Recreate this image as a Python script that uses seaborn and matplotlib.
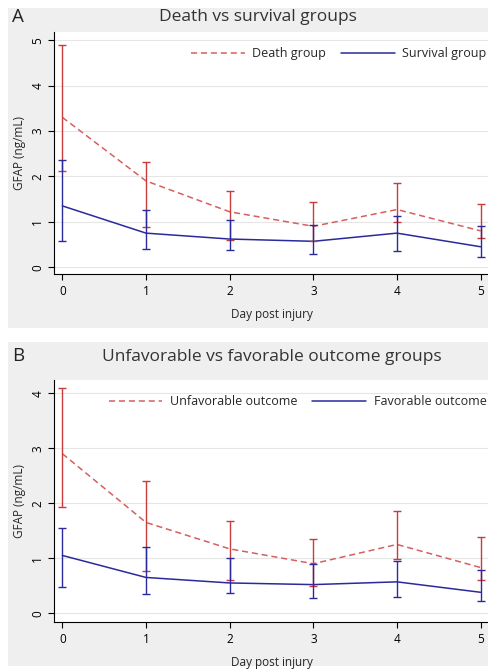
import matplotlib
matplotlib.use("Agg")
import matplotlib.pyplot as plt
import seaborn as sns
import pandas as pd
import numpy as np

days = [0, 1, 2, 3, 4, 5]

# Panel A
death_mean = [3.3, 1.9, 1.22, 0.9, 1.27, 0.8]
death_low = [2.12, 0.88, 0.6, 0.57, 1.0, 0.65]
death_high = [4.9, 2.32, 1.68, 1.43, 1.85, 1.4]
surv_mean = [1.35, 0.75, 0.62, 0.57, 0.75, 0.45]
surv_low = [0.57, 0.4, 0.37, 0.3, 0.35, 0.22]
surv_high = [2.37, 1.25, 1.03, 0.93, 1.13, 0.9]

# Panel B
unfav_mean = [2.9, 1.65, 1.17, 0.9, 1.25, 0.83]
unfav_low = [1.93, 0.77, 0.6, 0.5, 0.98, 0.6]
unfav_high = [4.1, 2.4, 1.68, 1.35, 1.85, 1.38]
fav_mean = [1.05, 0.65, 0.55, 0.52, 0.57, 0.38]
fav_low = [0.48, 0.35, 0.37, 0.28, 0.3, 0.23]
fav_high = [1.55, 1.2, 1.0, 0.9, 0.95, 0.78]

RED = "#d65f5f"
RED_BAR = "#c83c3c"
BLUE = "#2a2a9c"

sns.set_style("white")
plt.rcParams["font.family"] = ["Open Sans", "DejaVu Sans"]

fig = plt.figure(figsize=(4.88, 6.69), dpi=100)
fig.patch.set_facecolor("white")

# gray panel backgrounds
for y0, y1 in [(8, 328), (342, 666)]:
    rect = plt.Rectangle((8 / 488, 1 - y1 / 669), 1, (y1 - y0) / 669,
                         transform=fig.transFigure, facecolor="#efefef",
                         edgecolor="none", zorder=-10)
    fig.add_artist(rect)


def panel(rect, bad_mean, bad_low, bad_high, good_mean, good_low, good_high,
          bad_name, good_name, ylim, yticks):
    ax = fig.add_axes(rect)
    df = pd.DataFrame({
        "day": days * 2,
        "gfap": bad_mean + good_mean,
        "group": [bad_name] * 6 + [good_name] * 6,
    })
    sns.lineplot(data=df, x="day", y="gfap", hue="group", style="group",
                 palette={bad_name: RED, good_name: BLUE},
                 dashes={bad_name: (4, 2.5), good_name: ""},
                 linewidth=1.1, ax=ax)
    bm = np.array(bad_mean)
    gm = np.array(good_mean)
    ax.errorbar(days, bm, yerr=[bm - np.array(bad_low), np.array(bad_high) - bm],
                fmt="none", ecolor=RED_BAR, elinewidth=1.0, capsize=3, capthick=1.0)
    ax.errorbar(days, gm, yerr=[gm - np.array(good_low), np.array(good_high) - gm],
                fmt="none", ecolor=BLUE, elinewidth=1.0, capsize=3, capthick=1.0)
    ax.set_xlim(-0.1, 5.1)
    ax.set_ylim(*ylim)
    ax.set_xticks(days)
    ax.set_yticks(yticks)
    ax.set_yticklabels([str(t) for t in yticks], rotation=90, va="center")
    ax.grid(axis="y", color="#e6e6e6", linewidth=0.8)
    ax.set_axisbelow(True)
    sns.despine(ax=ax, top=True, right=True)
    ax.spines["left"].set_color("black")
    ax.spines["bottom"].set_color("black")
    ax.tick_params(axis="both", direction="out", length=4, width=0.8,
                   labelsize=8.5, left=True, bottom=True, colors="black")
    ax.tick_params(axis="y", pad=3)
    ax.tick_params(axis="x", pad=4)
    ax.set_xlabel("Day post injury", fontsize=8.5, labelpad=7)
    ax.set_ylabel("GFAP (ng/mL)", fontsize=8.5, labelpad=4)
    ax.set_facecolor("white")
    ax.legend(loc="upper right", bbox_to_anchor=(1.02, 0.985), ncol=2, frameon=False,
              fontsize=9, handlelength=4.3, columnspacing=1.2, handletextpad=0.6,
              borderaxespad=0.5)
    return ax


axA = panel([54 / 488, 1 - 274 / 669, 435 / 488, 242 / 669],
            death_mean, death_low, death_high, surv_mean, surv_low, surv_high,
            "Death group", "Survival group", (-0.15, 5.18), [0, 1, 2, 3, 4, 5])
axB = panel([54 / 488, 1 - 622 / 669, 435 / 488, 242 / 669],
            unfav_mean, unfav_low, unfav_high, fav_mean, fav_low, fav_high,
            "Unfavorable outcome", "Favorable outcome", (-0.16, 4.24), [0, 1, 2, 3, 4])

fig.text(12 / 488, 1 - 17 / 669, "A", fontsize=13.5, va="center", ha="left", color="#222222")
fig.text(258 / 488, 1 - 17 / 669, "Death vs survival groups", fontsize=12.5, va="center",
         ha="center", color="#333333")
fig.text(12 / 488, 1 - 356 / 669, "B", fontsize=13.5, va="center", ha="left", color="#222222")
fig.text(272 / 488, 1 - 357 / 669, "Unfavorable vs favorable outcome groups", fontsize=12.5,
         va="center", ha="center", color="#333333")

fig.savefig("out.png", dpi=100)
